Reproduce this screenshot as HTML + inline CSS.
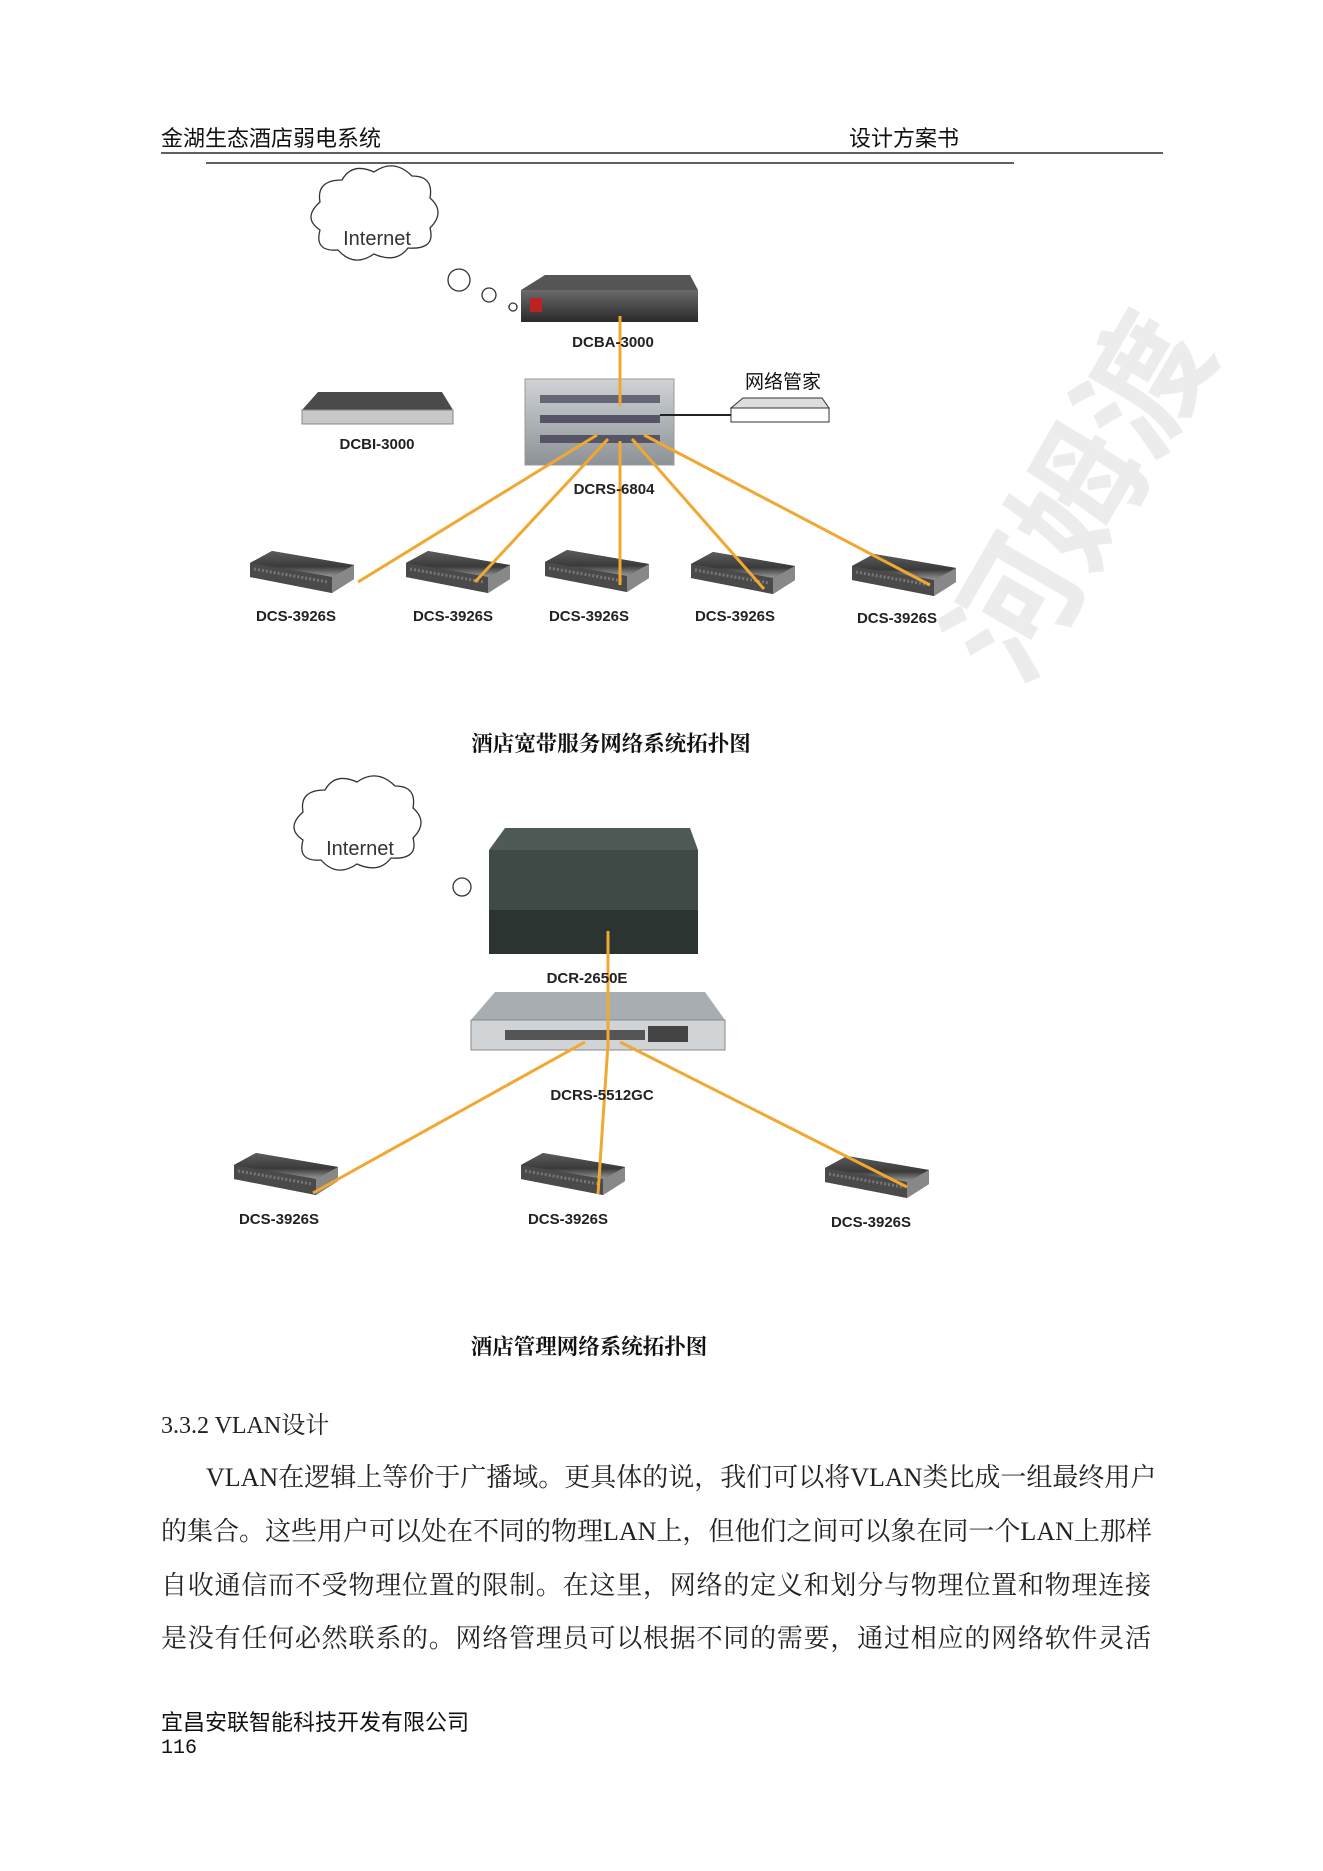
<!DOCTYPE html>
<html><head><meta charset="utf-8"><style>
html,body{margin:0;padding:0;background:#fff;}
body{width:1323px;height:1871px;position:relative;overflow:hidden;font-family:"Liberation Serif","Noto Serif CJK SC",serif;}
.t{position:absolute;white-space:nowrap;color:#111;}
.hd{font-family:"Liberation Sans","Noto Sans CJK SC",sans-serif;font-size:22px;}
.lbl{font-family:"Liberation Sans",sans-serif;font-weight:bold;font-size:15px;transform:translateX(-50%);color:#222;}
.cap{font-family:"Liberation Serif","Noto Serif CJK SC",serif;font-weight:bold;font-size:21.5px;transform:translateX(-50%);}
.p{position:absolute;left:161px;width:990px;font-size:26px;font-family:"Liberation Serif","Noto Serif CJK SC",serif;text-align:justify;text-align-last:justify;white-space:nowrap;color:#222;}
</style></head><body>
<svg width="1323" height="1871" style="position:absolute;left:0;top:0">
<defs>
<linearGradient id="dk" x1="0" y1="0" x2="0" y2="1"><stop offset="0" stop-color="#6a6a6a"/><stop offset="1" stop-color="#2a2a2a"/></linearGradient>
<linearGradient id="sw" x1="0" y1="0" x2="0" y2="1"><stop offset="0" stop-color="#5c5c5c"/><stop offset="0.6" stop-color="#3a3a3a"/><stop offset="1" stop-color="#9a9a9a"/></linearGradient>
<linearGradient id="lt" x1="0" y1="0" x2="0" y2="1"><stop offset="0" stop-color="#cfd3d6"/><stop offset="1" stop-color="#8d9296"/></linearGradient>
<g id="swt">
<polygon points="-52,-10 -30,-22 52,-8 52,6 30,20 -52,4" fill="#333"/>
<polygon points="-52,-10 -30,-22 52,-8 30,4" fill="url(#sw)"/>
<polygon points="-52,-10 30,4 30,20 -52,4" fill="#4a4a4a"/>
<polygon points="30,4 52,-8 52,6 30,20" fill="#888"/>
<line x1="-48" y1="-4" x2="26" y2="9" stroke="#777" stroke-width="3" stroke-dasharray="2,2"/>
</g>
</defs>
<text x="1120" y="520" font-size="130" font-weight="bold" fill="#ececec" font-family="Noto Sans CJK SC,sans-serif" transform="rotate(-60 1120 520)" text-anchor="middle">河姆渡</text>
<line x1="161" y1="153" x2="1163" y2="153" stroke="#000" stroke-width="1.2"/>
<line x1="206" y1="163" x2="1014" y2="163" stroke="#000" stroke-width="1.2"/>
<g fill="#fff" stroke="#333" stroke-width="1.3">
<path d="M320,230 q-18,-12 0,-28 q-4,-22 22,-22 q10,-18 32,-8 q20,-14 38,4 q22,0 18,22 q16,14 0,30 q6,22 -22,20 q-12,16 -34,6 q-20,14 -36,-4 q-24,2 -18,-20 z"/>
<circle cx="459" cy="280" r="11"/><circle cx="489" cy="295" r="7"/><circle cx="513" cy="307" r="4"/>
</g>
<text x="377" y="245" font-family="Liberation Sans,sans-serif" font-size="20" text-anchor="middle" fill="#333">Internet</text>
<polygon points="521,290 545,275 690,275 698,290" fill="#555"/>
<rect x="521" y="290" width="177" height="32" fill="url(#dk)"/>
<rect x="530" y="298" width="12" height="14" fill="#b22"/>
<rect x="525" y="379" width="149" height="86" fill="url(#lt)" stroke="#999"/>
<rect x="540" y="395" width="120" height="8" fill="#667"/>
<rect x="540" y="415" width="120" height="8" fill="#556"/>
<rect x="540" y="435" width="120" height="8" fill="#556"/>
<polygon points="302,410 318,392 442,392 453,410" fill="#4a4a4a"/>
<rect x="302" y="410" width="151" height="14" fill="#c8c8c8" stroke="#888"/>
<polygon points="731,408 743,398 822,398 829,408" fill="#ddd" stroke="#333"/>
<rect x="731" y="408" width="98" height="14" fill="#fff" stroke="#333"/>
<line x1="660" y1="415" x2="731" y2="415" stroke="#222" stroke-width="2"/>
<use href="#swt" x="302" y="573"/><use href="#swt" x="458" y="573"/><use href="#swt" x="597" y="572"/><use href="#swt" x="743" y="574"/><use href="#swt" x="904" y="576"/>
<g stroke="#f0a830" stroke-width="3">
<line x1="620" y1="316" x2="620" y2="406"/>
<line x1="597" y1="435" x2="358" y2="582"/>
<line x1="608" y1="439" x2="475" y2="582"/>
<line x1="620" y1="441" x2="620" y2="585"/>
<line x1="632" y1="439" x2="764" y2="589"/>
<line x1="644" y1="435" x2="930" y2="585"/>
</g>
<g fill="#fff" stroke="#333" stroke-width="1.3">
<path d="M303,840 q-18,-12 0,-28 q-4,-22 22,-22 q10,-18 32,-8 q20,-14 38,4 q22,0 18,22 q16,14 0,30 q6,22 -22,20 q-12,16 -34,6 q-20,14 -36,-4 q-24,2 -18,-20 z"/>
<circle cx="462" cy="887" r="9"/>
</g>
<text x="360" y="855" font-family="Liberation Sans,sans-serif" font-size="20" text-anchor="middle" fill="#333">Internet</text>
<polygon points="489,850 505,828 690,828 698,850" fill="#4d5a55"/>
<rect x="489" y="850" width="209" height="60" fill="#3f4a46"/>
<rect x="489" y="910" width="209" height="44" fill="#2c3431"/>
<polygon points="471,1020 495,992 705,992 725,1020" fill="#a7adb1"/>
<rect x="471" y="1020" width="254" height="30" fill="#d0d4d6" stroke="#888"/>
<rect x="505" y="1030" width="140" height="10" fill="#555"/>
<rect x="648" y="1026" width="40" height="16" fill="#444"/>
<use href="#swt" x="286" y="1175"/><use href="#swt" x="573" y="1175"/><use href="#swt" x="877" y="1178"/>
<g stroke="#f0a830" stroke-width="3">
<line x1="608" y1="931" x2="608" y2="1044"/>
<line x1="585" y1="1042" x2="313" y2="1193"/>
<line x1="608" y1="1044" x2="598" y2="1194"/>
<line x1="620" y1="1042" x2="907" y2="1187"/>
</g>
</svg>
<div class="t hd" style="left:161px;top:121px;">金湖生态酒店弱电系统</div>
<div class="t hd" style="left:849px;top:121px;">设计方案书</div>
<div class="t lbl" style="left:613px;top:334px;">DCBA-3000</div>
<div class="t lbl" style="left:377px;top:436px;">DCBI-3000</div>
<div class="t hd" style="left:745px;top:367px;font-size:19px;">网络管家</div>
<div class="t lbl" style="left:614px;top:481px;">DCRS-6804</div>
<div class="t lbl" style="left:296px;top:608px;">DCS-3926S</div>
<div class="t lbl" style="left:453px;top:608px;">DCS-3926S</div>
<div class="t lbl" style="left:589px;top:608px;">DCS-3926S</div>
<div class="t lbl" style="left:735px;top:608px;">DCS-3926S</div>
<div class="t lbl" style="left:897px;top:610px;">DCS-3926S</div>
<div class="t cap" style="left:611px;top:727px;">酒店宽带服务网络系统拓扑图</div>
<div class="t lbl" style="left:587px;top:970px;">DCR-2650E</div>
<div class="t lbl" style="left:602px;top:1087px;">DCRS-5512GC</div>
<div class="t lbl" style="left:279px;top:1211px;">DCS-3926S</div>
<div class="t lbl" style="left:568px;top:1211px;">DCS-3926S</div>
<div class="t lbl" style="left:871px;top:1214px;">DCS-3926S</div>
<div class="t cap" style="left:589px;top:1330px;">酒店管理网络系统拓扑图</div>
<div class="t" style="left:161px;top:1405px;font-size:24px;color:#222;">3.3.2 VLAN设计</div>
<div class="p" style="top:1457px;left:206px;width:945px;">VLAN在逻辑上等价于广播域。更具体的说，我们可以将VLAN类比成一组最终用户</div>
<div class="p" style="top:1511px;">的集合。这些用户可以处在不同的物理LAN上，但他们之间可以象在同一个LAN上那样</div>
<div class="p" style="top:1565px;">自收通信而不受物理位置的限制。在这里，网络的定义和划分与物理位置和物理连接</div>
<div class="p" style="top:1618px;">是没有任何必然联系的。网络管理员可以根据不同的需要，通过相应的网络软件灵活</div>
<div class="t hd" style="left:161px;top:1705px;">宜昌安联智能科技开发有限公司</div>
<div class="t" style="left:161px;top:1737px;font-size:20px;font-family:'Liberation Mono',monospace;">116</div>
</body></html>
